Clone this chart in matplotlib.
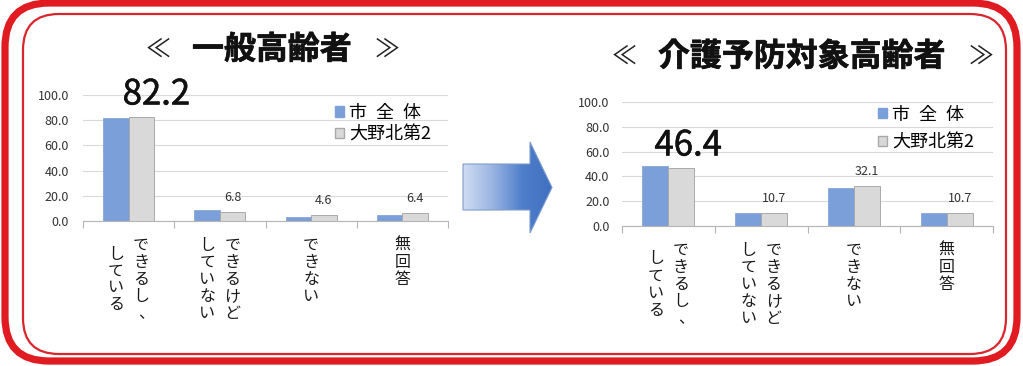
import numpy as np
import matplotlib
matplotlib.use("Agg")
import matplotlib.pyplot as plt
import matplotlib.patheffects as pe
from matplotlib.patches import FancyBboxPatch, Polygon, Rectangle
from matplotlib.colors import LinearSegmentedColormap

plt.rcParams['font.family'] = ['Noto Sans CJK JP', 'DejaVu Sans']

# --- data ---
categories = ["できるし、\nしている", "できるけど\nしていない", "できない", "無回答"]
series_names = ["市\u2002全\u2002体", "大野北第2"]
titles = ["一般高齢者", "介護予防対象高齢者"]

general_city = [81.4, 8.6, 3.3, 4.9]
general_local = [82.2, 6.8, 4.6, 6.4]
care_city = [48.5, 10.2, 30.3, 10.2]
care_local = [46.4, 10.7, 32.1, 10.7]
yticks = [0, 20, 40, 60, 80, 100]

BLUE = "#7b9fd8"
GRAY = "#d9d9d9"
GRAY_EDGE = "#a9a9a9"
W, H = 1023, 366


def px_box(x0, y0, x1, y1):
    # pixel box (top-left origin) -> figure fraction rect
    return [x0 / W, 1 - y1 / H, (x1 - x0) / W, (y1 - y0) / H]


def draw_vertical_labels(ax, labels, top_px=16, pitch=17, col_gap=25, size=11.5):
    trans = ax.get_xaxis_transform()
    for i, lab in enumerate(labels):
        cols = lab.split("\n")
        n = max(len(c) for c in cols)
        ncol = len(cols)
        for j, col in enumerate(cols):
            # first column sits on the right (vertical writing)
            dx = ((ncol - 1) / 2 - j) * col_gap
            dy0 = -top_px - (n - len(col)) * pitch / 2
            for k, ch in enumerate(col):
                ox, oy = (5, 0) if ch == "、" else (0, 0)
                ax.annotate(ch, xy=(i, 0), xycoords=trans,
                            xytext=(dx + ox, dy0 - (k + 0.5) * pitch + oy),
                            textcoords="offset pixels", ha="center", va="center",
                            fontsize=size, color="#1a1a1a", annotation_clip=False)


def draw_chart(ax, city, local, big_dx, leg_anchor, leg_spacing, ypad):
    x = np.arange(len(categories))
    bw = 0.28
    ax.bar(x - bw / 2, city, bw, color=BLUE, edgecolor=BLUE, lw=0.5, zorder=2)
    ax.bar(x + bw / 2, local, bw, color=GRAY, edgecolor=GRAY_EDGE, lw=0.7, zorder=2)

    ax.set_xlim(-0.5, len(categories) - 0.5)
    ax.set_ylim(0, 100)
    ax.set_yticks(yticks)
    ax.set_yticklabels([f"{v:.1f}" for v in yticks])
    ax.yaxis.grid(True, color="#d9d9d9", lw=0.8)
    ax.set_axisbelow(True)
    ax.set_xticks([])
    ax.set_xticks(np.arange(-0.5, len(categories), 1), minor=True)
    ax.tick_params(axis="x", which="minor", length=5, color="#b5b5b5", width=0.8)
    ax.tick_params(axis="y", length=0, pad=ypad, labelsize=9, labelcolor="#333333")
    for s in ["left", "right", "top"]:
        ax.spines[s].set_visible(False)
    ax.spines["bottom"].set_color("#b5b5b5")
    ax.set_facecolor("none")

    # values of the local series
    for i, v in enumerate(local):
        if i == 0:
            ax.annotate(f"{v:.1f}", xy=(i + bw / 2, v), xytext=(big_dx, 5),
                        textcoords="offset pixels", ha="center", va="bottom",
                        fontsize=25, color="#111111",
                        path_effects=[pe.withStroke(linewidth=0.4, foreground="#111111")])
        else:
            ax.annotate(f"{v:.1f}", xy=(i + bw / 2, v), xytext=(0, 8),
                        textcoords="offset pixels", ha="center", va="bottom",
                        fontsize=9, color="#333333")

    draw_vertical_labels(ax, categories)

    handles = [Rectangle((0, 0), 1, 1, fc=BLUE, ec=BLUE),
               Rectangle((0, 0), 1, 1, fc=GRAY, ec=GRAY_EDGE)]
    ax.legend(handles, series_names, loc="upper left", bbox_to_anchor=leg_anchor,
              frameon=False, fontsize=13, handlelength=0.5, handleheight=0.5,
              handletextpad=0.3, borderpad=0, borderaxespad=0,
              labelspacing=leg_spacing)


def draw_title(text, lx, cx, rx, cy):
    fig.text(cx / W, 1 - cy / H, text, ha="center", va="center",
             fontsize=23, fontweight="bold", color="#111111",
             path_effects=[pe.withStroke(linewidth=0.5, foreground="#111111")])
    for bx, br in [(lx, "≪"), (rx, "≫")]:
        fig.text(bx / W, 1 - cy / H, br, ha="center", va="center",
                 fontsize=18, color="#222222")


fig = plt.figure(figsize=(W / 100, H / 100), dpi=100)

# background layer: frame and arrow, in pixel coordinates
bg = fig.add_axes([0, 0, 1, 1], zorder=0)
bg.set_xlim(0, W)
bg.set_ylim(H, 0)
bg.axis("off")

outer = FancyBboxPatch((5, 3), 1012, 358, boxstyle="round,pad=0,rounding_size=44",
                       fc="none", ec="#e01b22", lw=5.2)
inner = FancyBboxPatch((23, 14), 983, 340, boxstyle="round,pad=0,rounding_size=36",
                       fc="none", ec="#d9252b", lw=1.6)
bg.add_patch(outer)
bg.add_patch(inner)

arrow_pts = [(463, 164), (530, 164), (530, 142), (552, 187.5),
             (530, 233), (530, 210), (463, 210)]
arrow = Polygon(arrow_pts, closed=True, fc="none", ec="#7f9dcc", lw=0.8, zorder=3)
bg.add_patch(arrow)
cmap = LinearSegmentedColormap.from_list("arr", ["#d0ddf2", "#9ab4e2", "#4f7fcb", "#3f6fbf"])
grad = np.linspace(0, 1, 256).reshape(1, -1)
im = bg.imshow(grad, cmap=cmap, extent=[463, 552, 233, 142], aspect="auto", zorder=2)
clip = Polygon(arrow_pts, closed=True, transform=bg.transData, fc="none", ec="none")
bg.add_patch(clip)
im.set_clip_path(clip)
bg.set_xlim(0, W)
bg.set_ylim(H, 0)

# titles
draw_title(titles[0], 158, 272, 387, 50)
draw_title(titles[1], 624, 802, 981, 57)

ax1 = fig.add_axes(px_box(83, 95, 448, 221), zorder=1)
draw_chart(ax1, general_city, general_local, big_dx=15,
           leg_anchor=(0.69, 0.93), leg_spacing=0.2, ypad=10)

ax2 = fig.add_axes(px_box(622, 102, 993, 226), zorder=1)
draw_chart(ax2, care_city, care_local, big_dx=7,
           leg_anchor=(0.69, 0.97), leg_spacing=0.55, ypad=9)

fig.savefig("out.png", dpi=100, facecolor="white")
